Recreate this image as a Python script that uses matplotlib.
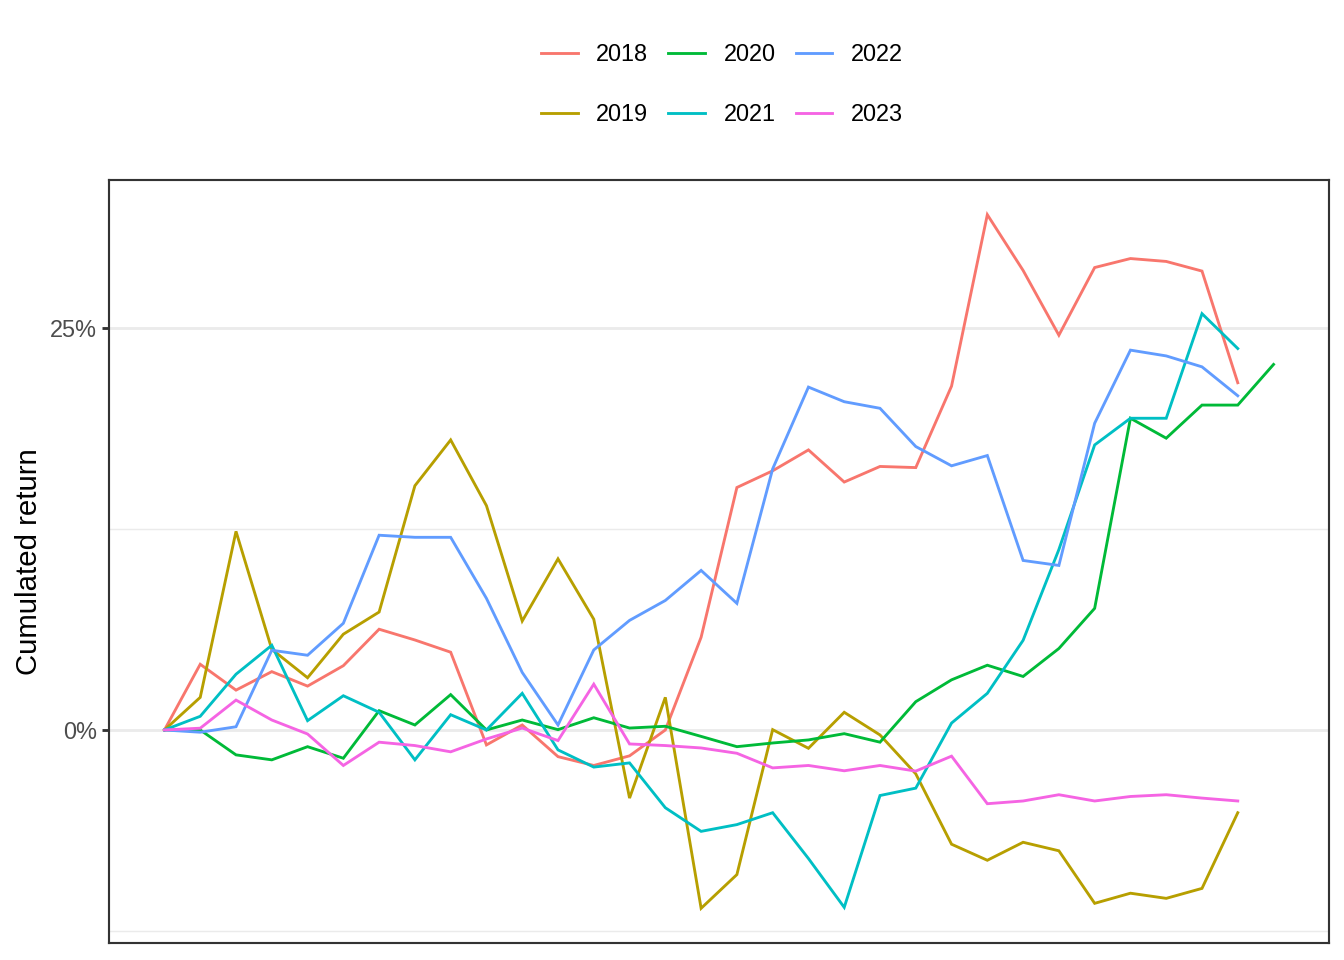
import matplotlib
matplotlib.use("Agg")
import matplotlib.pyplot as plt
from matplotlib.ticker import FixedLocator, FuncFormatter

plt.rcParams['font.family'] = ['Liberation Sans', 'DejaVu Sans']

# Cumulated return (%) by period index, one series per year
r2018 = [0, 4.09, 2.48, 3.63, 2.73, 4.00, 6.27, 5.60, 4.84, -0.93, 0.31, -1.66, -2.21, -1.61, 0.00,
         5.77, 15.09, 16.13, 17.43, 15.43, 16.40, 16.33, 21.40, 32.07, 28.60, 24.57, 28.78, 29.34,
         29.16, 28.56, 21.61]
r2019 = [0, 2.03, 12.36, 5.02, 3.25, 5.96, 7.34, 15.20, 18.05, 13.96, 6.78, 10.65, 6.89, -4.24, 2.03,
         -11.10, -9.00, 0.02, -1.14, 1.10, -0.31, -2.73, -7.11, -8.11, -6.99, -7.52, -10.79, -10.16,
         -10.48, -9.86, -5.15]
r2020 = [0, 0.00, -1.55, -1.86, -1.04, -1.76, 1.20, 0.31, 2.20, 0.00, 0.62, 0.02, 0.76, 0.12, 0.23,
         -0.40, -1.04, -0.81, -0.62, -0.23, -0.76, 1.76, 3.12, 4.03, 3.33, 5.07, 7.57, 19.40, 18.16,
         20.22, 20.22, 22.75]
r2021 = [0, 0.85, 3.47, 5.27, 0.58, 2.13, 1.10, -1.86, 0.95, 0.00, 2.28, -1.24, -2.31, -2.05, -4.84,
         -6.31, -5.89, -5.15, -8.00, -11.04, -4.08, -3.62, 0.43, 2.28, 5.58, 11.23, 17.74, 19.40,
         19.40, 25.91, 23.74]
r2022 = [0, -0.14, 0.20, 4.96, 4.65, 6.64, 12.12, 11.99, 11.99, 8.19, 3.58, 0.31, 4.98, 6.82, 8.06,
         9.93, 7.88, 16.25, 21.34, 20.43, 20.02, 17.64, 16.44, 17.08, 10.55, 10.24, 19.09, 23.64,
         23.28, 22.60, 20.80]
r2023 = [0, 0.11, 1.86, 0.62, -0.25, -2.21, -0.76, -0.97, -1.36, -0.56, 0.12, -0.66, 2.85, -0.87,
         -0.97, -1.12, -1.45, -2.36, -2.21, -2.54, -2.21, -2.56, -1.63, -4.59, -4.42, -4.03, -4.42,
         -4.14, -4.03, -4.24, -4.42]

years = ['2018', '2019', '2020', '2021', '2022', '2023']
series = [r2018, r2019, r2020, r2021, r2022, r2023]
colors = ['#F8766D', '#B79F00', '#00BA38', '#00BFC4', '#619CFF', '#F564E3']
major_ticks = [0, 25]
minor_ticks = [-12.5, 12.5]

fig = plt.figure(figsize=(7, 5), dpi=192)
ax = fig.add_axes([109 / 1344, 1 - 943 / 960, (1329 - 109) / 1344, (943 - 180) / 960])

handles = []
for yr, vals, c in zip(years, series, colors):
    h, = ax.plot(range(len(vals)), vals, color=c, lw=1.07, label=yr, solid_joinstyle='miter')
    handles.append(h)

allv = [v for s in series for v in s]
lo, hi = min(allv), max(allv)
pad = 0.05 * (hi - lo)
ax.set_ylim(lo - pad, hi + pad)
nmax = max(len(s) for s in series) - 1
ax.set_xlim(-0.05 * nmax, nmax * 1.05)

ax.yaxis.set_major_locator(FixedLocator(major_ticks))
ax.yaxis.set_minor_locator(FixedLocator(minor_ticks))
ax.yaxis.set_major_formatter(FuncFormatter(lambda v, p: f"{v:.0f}%"))
ax.set_xticks([])
ax.grid(axis='y', which='major', color='#EBEBEB', lw=1.07)
ax.grid(axis='y', which='minor', color='#EBEBEB', lw=0.53)
ax.set_axisbelow(True)
ax.tick_params(axis='y', which='major', length=2.75, width=1.07, color='#333333',
               labelcolor='#4D4D4D', labelsize=8.8, pad=1.8)
ax.tick_params(axis='y', which='minor', length=0)
for s in ax.spines.values():
    s.set_color('#333333')
    s.set_linewidth(0.8)

ax.set_ylabel('Cumulated return', fontsize=11, color='black', labelpad=2.5)

fig.legend(handles=handles, labels=years, loc='center', bbox_to_anchor=(722 / 1344, 1 - 84.5 / 960),
           ncol=3, frameon=False, fontsize=8.8, handlelength=1.55, handletextpad=0.8,
           columnspacing=0.85, labelspacing=1.58)

fig.savefig('out.png', dpi=192)
